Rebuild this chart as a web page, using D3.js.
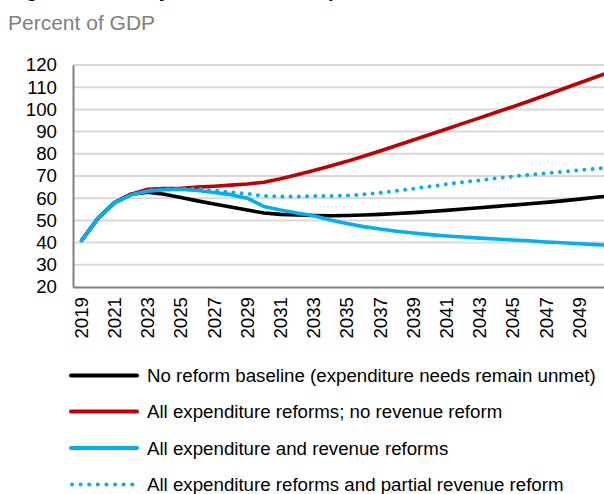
<!DOCTYPE html>
<html>
<head>
<meta charset="utf-8">
<script src="https://cdn.jsdelivr.net/npm/d3@7"></script>
<style>
  html, body { margin: 0; padding: 0; background: #fff; }
  svg { display: block; font-family: Arial, "Liberation Sans", sans-serif; }
</style>
</head>
<body>
<svg id="chart" width="604" height="494"></svg>
<script>
// Projection years
const years = [2019, 2020, 2021, 2022, 2023, 2024, 2025, 2026, 2027, 2028, 2029,
  2030, 2031, 2032, 2033, 2034, 2035, 2036, 2037, 2038, 2039, 2040, 2041,
  2042, 2043, 2044, 2045, 2046, 2047, 2048, 2049, 2050, 2051];

// Debt, percent of GDP, by scenario
const baseline = [40.8, 50.9, 58.0, 61.8, 62.7, 61.8, 60.3, 58.8, 57.4, 56.0, 54.7,
  53.3, 52.7, 52.4, 52.2, 52.1, 52.2, 52.4, 52.7, 53.1, 53.5, 54.0, 54.5,
  55.1, 55.7, 56.3, 56.9, 57.5, 58.1, 58.8, 59.6, 60.4, 61.2];
const expenditureOnly = [40.8, 50.9, 58.0, 61.8, 64.0, 64.3, 64.5, 65.0, 65.4, 65.9, 66.4,
  67.2, 68.8, 70.6, 72.5, 74.5, 76.6, 78.9, 81.3, 83.7, 86.2, 88.7, 91.2,
  93.7, 96.2, 98.7, 101.2, 103.8, 106.5, 109.2, 111.9, 114.6, 117.3];
const allReforms = [40.8, 50.9, 58.0, 61.4, 63.2, 63.8, 64.0, 63.5, 62.6, 61.6, 60.0,
  56.3, 54.7, 53.3, 52.1, 50.2, 48.6, 47.2, 46.1, 45.1, 44.3, 43.6, 43.0,
  42.5, 42.0, 41.6, 41.2, 40.8, 40.3, 39.9, 39.5, 39.1, 38.7];
const partialRevenue = [40.8, 50.9, 58.0, 61.4, 63.4, 64.0, 64.2, 64.3, 63.5, 62.7, 62.0,
  61.0, 60.8, 60.8, 61.0, 61.0, 61.2, 61.7, 62.4, 63.3, 64.3, 65.3, 66.3,
  67.2, 68.1, 69.0, 69.8, 70.5, 71.2, 71.9, 72.6, 73.3, 74.0];

// Axis ticks
const yTicks = [20, 30, 40, 50, 60, 70, 80, 90, 100, 110, 120];
const xTickLabels = [2019, 2021, 2023, 2025, 2027, 2029, 2031, 2033, 2035, 2037,
  2039, 2041, 2043, 2045, 2047, 2049];

const seriesNames = [
  "No reform baseline (expenditure needs remain unmet)",
  "All expenditure reforms; no revenue reform",
  "All expenditure and revenue reforms",
  "All expenditure reforms and partial revenue reform"
];

const series = [
  { name: seriesNames[0], values: baseline, color: "#000000", dotted: false },
  { name: seriesNames[1], values: expenditureOnly, color: "#c00000", dotted: false },
  { name: seriesNames[2], values: allReforms, color: "#00b0f0", dotted: false },
  { name: seriesNames[3], values: partialRevenue, color: "#00b0f0", dotted: true }
];

const svg = d3.select("#chart");
const plot = { left: 73, top: 65, bottom: 287, step: 16.6 };
const labelSize = 18.7;

const x = d3.scaleBand()
  .domain(years)
  .range([plot.left, plot.left + years.length * plot.step])
  .paddingInner(0).paddingOuter(0);
const xc = yr => x(yr) + x.bandwidth() / 2;

const y = d3.scaleLinear().domain([20, 120]).range([plot.bottom, plot.top]);

// Title (runs past the top edge) and units
svg.append("text")
  .attr("x", 8).attr("y", -3)
  .attr("font-size", 20).attr("font-weight", "bold").attr("fill", "#000")
  .text("Figure 5. Debt dynamics under expenditure and revenue reform scenarios");
svg.append("text")
  .attr("x", 8).attr("y", 30)
  .attr("font-size", 21).attr("fill", "#808080")
  .text("Percent of GDP");

// Horizontal gridlines
const xRight = 620;
svg.append("g").selectAll("line")
  .data(yTicks.filter(t => t > 20))
  .join("line")
  .attr("x1", plot.left).attr("x2", xRight)
  .attr("y1", d => y(d)).attr("y2", d => y(d))
  .attr("stroke", "#d9d9d9").attr("stroke-width", 2);

// Y axis
const yAxis = svg.append("g")
  .attr("transform", `translate(${plot.left},0)`)
  .call(d3.axisLeft(y).tickValues(yTicks).tickSize(0).tickPadding(16));
yAxis.select(".domain").attr("stroke", "#808080").attr("stroke-width", 2);
yAxis.selectAll("text")
  .attr("font-size", labelSize).attr("fill", "#000")
  .attr("font-family", "Arial, 'Liberation Sans', sans-serif");

// X axis
const xAxis = svg.append("g")
  .attr("transform", `translate(0,${plot.bottom})`)
  .call(d3.axisBottom(x).tickValues(xTickLabels).tickSize(0).tickPadding(0));
xAxis.select(".domain").attr("stroke", "#808080").attr("stroke-width", 2);
xAxis.selectAll("text")
  .attr("font-size", labelSize).attr("fill", "#000")
  .attr("font-family", "Arial, 'Liberation Sans', sans-serif")
  .attr("transform", "rotate(-90)")
  .attr("text-anchor", "end")
  .attr("dy", "0.35em")
  .attr("x", -10)
  .attr("y", 0);

// Series lines
const line = d3.line()
  .x((d, i) => xc(years[i]))
  .y(d => y(d));

svg.append("g").selectAll("path")
  .data(series)
  .join("path")
  .attr("d", d => line(d.values))
  .attr("fill", "none")
  .attr("stroke", d => d.color)
  .attr("stroke-width", d => d.dotted ? 4 : 3.6)
  .attr("stroke-linejoin", "round")
  .attr("stroke-linecap", d => d.dotted ? "round" : "butt")
  .attr("stroke-dasharray", d => d.dotted ? "0 8.2" : null);

// Legend
const legendRows = [375.5, 411.5, 448, 484.5];
const legend = svg.append("g").selectAll("g")
  .data(series)
  .join("g")
  .attr("transform", (d, i) => `translate(0,${legendRows[i]})`);
legend.append("line")
  .attr("x1", d => d.dotted ? 72 : 71).attr("x2", 137)
  .attr("stroke", d => d.color)
  .attr("stroke-width", 4)
  .attr("stroke-linecap", "round")
  .attr("stroke-dasharray", d => d.dotted ? "0 8.6" : null);
legend.append("text")
  .attr("x", 147).attr("dy", "0.35em")
  .attr("font-size", labelSize).attr("fill", "#000")
  .text(d => d.name);
</script>
</body>
</html>
